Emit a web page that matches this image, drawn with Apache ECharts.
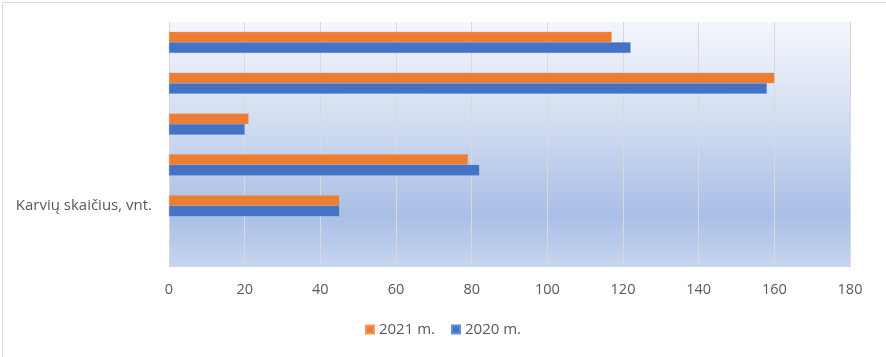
<!DOCTYPE html>
<html>
<head>
<meta charset="utf-8">
<script src="https://cdn.jsdelivr.net/npm/echarts@6/dist/echarts.min.js"></script>
<style>
html,body{margin:0;padding:0;background:#fff;}
#chart{width:886px;height:357px;}
</style>
</head>
<body>
<div id="chart"></div>
<script>
// Categories bottom-to-top (ECharts y category order)
var categoryLabels = ['', 'Karvių skaičius, vnt.', '', '', '', ''];
var categoryKeys = ['k0', 'k1', 'k2', 'k3', 'k4', 'k5'];
var values2021 = [null, 45, 79, 21, 160, 117];
var values2020 = [null, 45, 82, 20, 158, 122];
var xTicks = [0, 20, 40, 60, 80, 100, 120, 140, 160, 180];
var seriesNames = ['2021 m.', '2020 m.'];

var chart = echarts.init(document.getElementById('chart'), null, {renderer: 'canvas'});
var FONT = 'Open Sans';
chart.setOption({
  animation: false,
  backgroundColor: '#ffffff',
  graphic: [{
    type: 'rect', left: 0, top: 0, silent: true, z: -10,
    shape: {x: 0.5, y: 0.5, width: 885, height: 356},
    style: {fill: 'none', stroke: '#d9d9d9', lineWidth: 1}
  }],
  legend: {
    data: seriesNames,
    bottom: 15,
    left: 'center',
    itemWidth: 8,
    itemHeight: 8,
    itemGap: 16,
    icon: 'rect',
    textStyle: {color: '#595959', fontSize: 15, fontFamily: FONT}
  },
  grid: {
    left: 169, right: 36, top: 22, bottom: 90,
    show: true,
    borderWidth: 0,
    backgroundColor: {
      type: 'linear', x: 0, y: 0, x2: 0, y2: 1,
      colorStops: [
        {offset: 0, color: '#f4f6fc'},
        {offset: 0.4, color: '#d2ddf1'},
        {offset: 0.79, color: '#a9bfe6'},
        {offset: 1, color: '#c7d5ee'}
      ]
    }
  },
  xAxis: {
    type: 'value',
    min: xTicks[0], max: xTicks[xTicks.length - 1], interval: 20,
    axisLine: {show: false},
    axisTick: {show: false},
    splitLine: {show: true, lineStyle: {color: '#d9d9d9', width: 1}},
    axisLabel: {color: '#595959', fontSize: 14.5, fontFamily: FONT, margin: 15}
  },
  yAxis: {
    type: 'category',
    data: categoryKeys,
    axisLine: {show: true, lineStyle: {color: '#d9d9d9'}},
    axisTick: {show: false},
    axisLabel: {
      color: '#595959', fontSize: 15, fontFamily: FONT, margin: 17,
      formatter: function (v, i) { return categoryLabels[i]; }
    }
  },
  series: [
    {
      name: seriesNames[0], type: 'bar', data: values2021,
      barWidth: 10.5, barGap: '0%',
      itemStyle: {color: '#ed7d31', borderColor: '#f09a62', borderWidth: 0.4}
    },
    {
      name: seriesNames[1], type: 'bar', data: values2020,
      barWidth: 10.5, barGap: '0%',
      itemStyle: {color: '#4472c4', borderColor: '#688cd0', borderWidth: 0.4}
    }
  ]
});
</script>
</body>
</html>
